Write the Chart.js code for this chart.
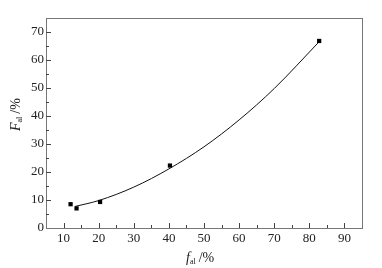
<!DOCTYPE html>
<html>
<head>
<meta charset="utf-8">
<script src="https://cdn.jsdelivr.net/npm/chart.js@4/dist/chart.umd.min.js"></script>
<style>
  html, body { margin: 0; padding: 0; background: #fff; }
  #wrap { width: 382px; height: 268px; }
</style>
</head>
<body>
<div id="wrap"><canvas id="chart" width="382" height="268"></canvas></div>
<script>
// measured points
const fAl = [12, 13.7, 20.4, 40.3, 82.8];
const FAl = [8.5, 7.0, 9.3, 22.3, 66.8];

// fitted curve
const fitX = [13.3, 20, 30, 40, 50, 60, 70, 83];
const fitY = [7.7, 9.8, 14.6, 21.1, 29.0, 38.6, 49.8, 66.8];

const xTicks = [10, 20, 30, 40, 50, 60, 70, 80, 90];
const yTicks = [0, 10, 20, 30, 40, 50, 60, 70];

const serif = '"Liberation Serif", "DejaVu Serif", serif';

// inward ticks, frame and axis titles
const framePlugin = {
    id: 'frame',
    afterDraw(chart) {
        const ctx = chart.ctx;
        const a = chart.chartArea;
        const xs = chart.scales.x, ys = chart.scales.y;
        ctx.save();
        ctx.strokeStyle = '#777';
        ctx.lineWidth = 1;
        ctx.strokeRect(Math.round(a.left) + 0.5, Math.round(a.top) + 0.5,
            Math.round(a.right - a.left), Math.round(a.bottom - a.top));

        ctx.strokeStyle = '#444';
        ctx.beginPath();
        for (let v = 10; v <= 90; v += 5) {
            const px = Math.round(xs.getPixelForValue(v)) + 0.5;
            const len = v % 10 === 0 ? 5 : 3;
            ctx.moveTo(px, a.bottom);
            ctx.lineTo(px, a.bottom - len);
        }
        for (let v = 5; v <= 70; v += 5) {
            const py = Math.round(ys.getPixelForValue(v)) + 0.5;
            const len = v % 10 === 0 ? 5 : 3;
            ctx.moveTo(a.left, py);
            ctx.lineTo(a.left + len, py);
        }
        ctx.stroke();

        // x title: f_al /%
        ctx.fillStyle = '#222';
        ctx.textBaseline = 'alphabetic';
        ctx.textAlign = 'left';
        let x = 186, y = 262;
        ctx.font = 'italic 14px ' + serif;
        ctx.fillText('f', x, y);
        x += ctx.measureText('f').width;
        ctx.font = '8px ' + serif;
        ctx.fillText('al', x, y + 2);
        x += ctx.measureText('al').width + 3;
        ctx.font = '14px ' + serif;
        ctx.fillText('/%', x, y);

        // y title: F_al /%
        ctx.translate(20, 131);
        ctx.rotate(-Math.PI / 2);
        x = 0; y = 0;
        ctx.font = 'italic 14px ' + serif;
        ctx.fillText('F', x, y);
        x += ctx.measureText('F').width;
        ctx.font = '8px ' + serif;
        ctx.fillText('al', x, y + 2);
        x += ctx.measureText('al').width + 3;
        ctx.font = '14px ' + serif;
        ctx.fillText('/%', x, y);
        ctx.restore();
    }
};

new Chart(document.getElementById('chart'), {
    type: 'scatter',
    data: {
        datasets: [
            {
                label: 'fit',
                data: fitX.map((v, i) => ({ x: v, y: fitY[i] })),
                showLine: true,
                borderColor: '#111',
                borderWidth: 1,
                pointRadius: 0,
                cubicInterpolationMode: 'monotone',
                order: 2
            },
            {
                label: 'data',
                data: fAl.map((v, i) => ({ x: v, y: FAl[i] })),
                pointStyle: 'rect',
                pointRadius: 3,
                backgroundColor: '#000',
                borderColor: '#000',
                borderWidth: 0,
                order: 1
            }
        ]
    },
    options: {
        responsive: false,
        animation: false,
        layout: { padding: { top: 18, right: 20, left: 0, bottom: 0 } },
        plugins: { legend: { display: false }, tooltip: { enabled: false } },
        scales: {
            x: {
                type: 'linear',
                min: 5,
                max: 95,
                afterBuildTicks: s => { s.ticks = xTicks.map(v => ({ value: v })); },
                afterFit: s => { s.height = 40; },
                grid: { display: false, drawTicks: false },
                border: { display: false },
                ticks: { padding: 3, color: '#222', font: { family: serif, size: 13 } }
            },
            y: {
                type: 'linear',
                min: 0,
                max: 75,
                afterBuildTicks: s => { s.ticks = yTicks.map(v => ({ value: v })); },
                afterFit: s => { s.width = 46; },
                grid: { display: false, drawTicks: false },
                border: { display: false },
                ticks: { padding: 2, color: '#222', font: { family: serif, size: 13 } }
            }
        }
    },
    plugins: [framePlugin]
});
</script>
</body>
</html>
